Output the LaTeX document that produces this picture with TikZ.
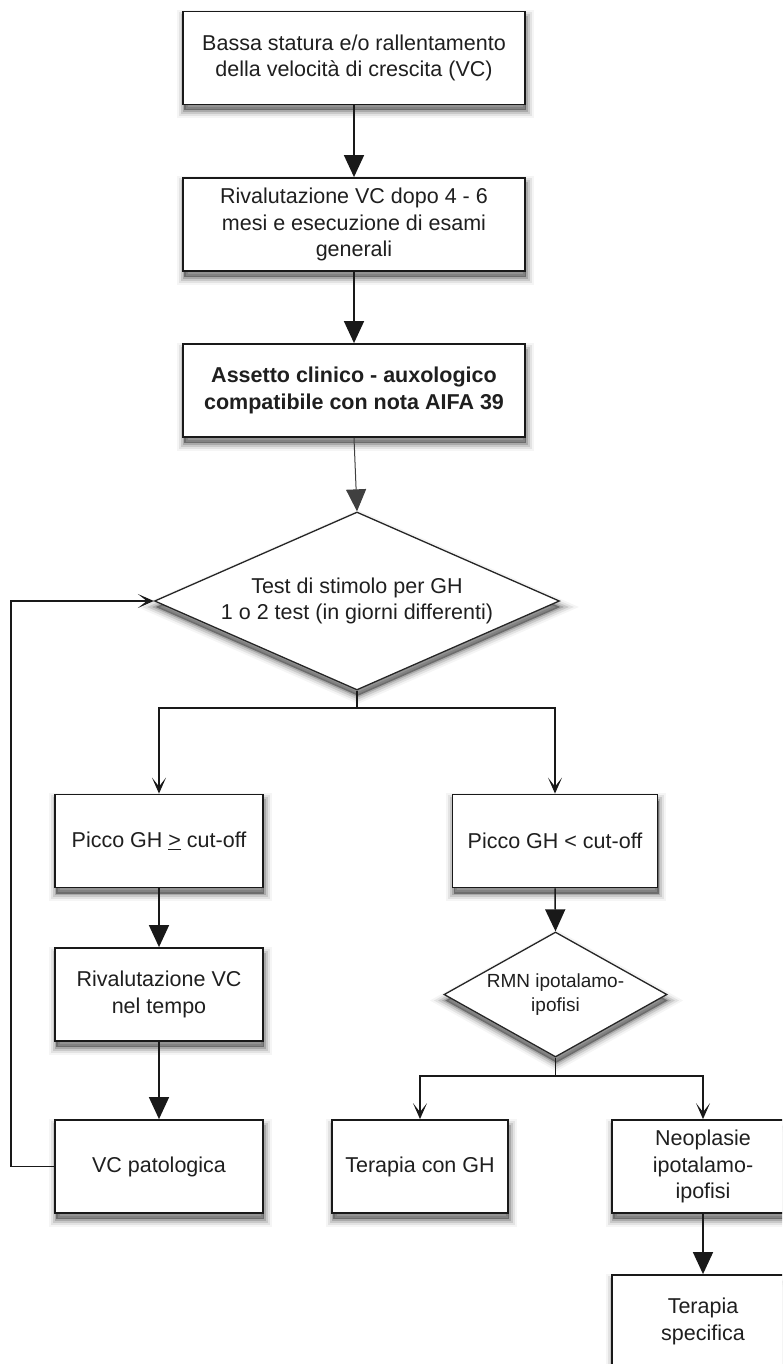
\documentclass[tikz,border=0pt]{standalone}
\usepackage{fontspec}
\setmainfont{Liberation Sans}
\usetikzlibrary{shapes.geometric,arrows.meta}
\tikzset{
  boxshadow/.style={
    preaction={fill=black, fill opacity=0.35, transform canvas={xshift=1pt,yshift=-6pt}},
    preaction={draw=black, draw opacity=0.16, line width=3pt, transform canvas={xshift=1pt,yshift=-6pt}},
    preaction={draw=black, draw opacity=0.11, line width=7pt, transform canvas={xshift=1pt,yshift=-6pt}},
    preaction={draw=black, draw opacity=0.07, line width=11pt, transform canvas={xshift=1pt,yshift=-6pt}},
    preaction={draw=black, draw opacity=0.04, line width=15pt, transform canvas={xshift=1pt,yshift=-6pt}}},
  box/.style={draw=black!90, line width=1.8pt, fill=white, minimum width=#1, minimum height=93pt,
    inner sep=0pt, align=center, font=\fontsize{21.5}{26.5}\selectfont, text=black!88, boxshadow},
  box/.default=342pt,
  decision/.style={shape=diamond, draw=black!85, line width=1.3pt, fill=white, inner sep=0pt,
    align=center, text=black!88, boxshadow},
  fillarrow/.style={draw=black!90, line width=1.5pt, -{Triangle[length=22pt,width=20pt]}},
  thinarrow/.style={draw=black!75, line width=1pt, -{Triangle[length=22pt,width=20pt]}},
  openarrow/.style={draw=black!90, line width=1.3pt, -{Stealth[length=16pt,width=14pt,inset=9pt]}},
  plainline/.style={draw=black!90, line width=1.3pt},
}
\begin{document}
\begin{tikzpicture}[x=1pt,y=-1pt]
\useasboundingbox (0,0) rectangle (782,1364);
\clip (0,0) rectangle (782,1364);
\fill[white] (0,0) rectangle (782,1364);

% main column
\node[box] (b1) at (354,58) {Bassa statura e/o rallentamento\\della velocità di crescita (VC)};
\node[box] (b2) at (354,224.5) {Rivalutazione VC dopo 4 - 6\\mesi e esecuzione di esami\\generali};
\node[box, font=\fontsize{21.5}{26.5}\selectfont\bfseries] (b3) at (354,390.5) {Assetto clinico - auxologico\\compatibile con nota AIFA 39};

\node[decision, minimum width=405pt, minimum height=178pt, aspect=2.27,
      font=\fontsize{21.5}{26.5}\selectfont] (d1) at (357,601) {Test di stimolo per GH\\1 o 2 test (in giorni differenti)};

% left branch
\node[box=208pt] (b4) at (159,841) {Picco GH \underline{>} cut-off};
\node[box=208pt] (b5) at (159,994.5) {Rivalutazione VC\\nel tempo};
\node[box=208pt] (b6) at (159,1166.5) {VC patologica};

% right branch
\node[box=205pt] (b7) at (555,841) {Picco GH < cut-off};
\node[decision, minimum width=223pt, minimum height=125pt, aspect=1.78,
      font=\fontsize{19}{24}\selectfont] (d2) at (555.5,994.5) {RMN ipotalamo-\\ipofisi};
\node[box=176pt] (b8) at (420,1166.5) {Terapia con GH};
\node[box=182pt] (b9) at (703,1166.5) {Neoplasie\\ipotalamo-\\ipofisi};
\node[box=182pt] (b10) at (703,1321.5) {Terapia\\specifica};

% junctions
\coordinate (j1) at (357,708);
\coordinate (j2) at (555.5,1076);
\coordinate (loopc) at (11,1166.5);

% connectors
\draw[fillarrow] (b1) -- (b2);
\draw[fillarrow] (b2) -- (b3);
\draw[thinarrow] (b3.south) -- (d1.north);
\draw[plainline] (d1.south) -- (j1);
\draw[openarrow] (j1) -| (b4.north);
\draw[openarrow] (j1) -| (b7.north);
\draw[fillarrow] (b4) -- (b5);
\draw[fillarrow] (b5) -- (b6);
\draw[openarrow] (b6.west) -- (loopc) |- (d1.west);
\draw[fillarrow] (b7.south) -- (d2.north);
\draw[plainline] (d2.south) -- (j2);
\draw[openarrow] (j2) -| (b8.north);
\draw[openarrow] (j2) -| (b9.north);
\draw[fillarrow] (b9) -- (b10);
\end{tikzpicture}
\end{document}
